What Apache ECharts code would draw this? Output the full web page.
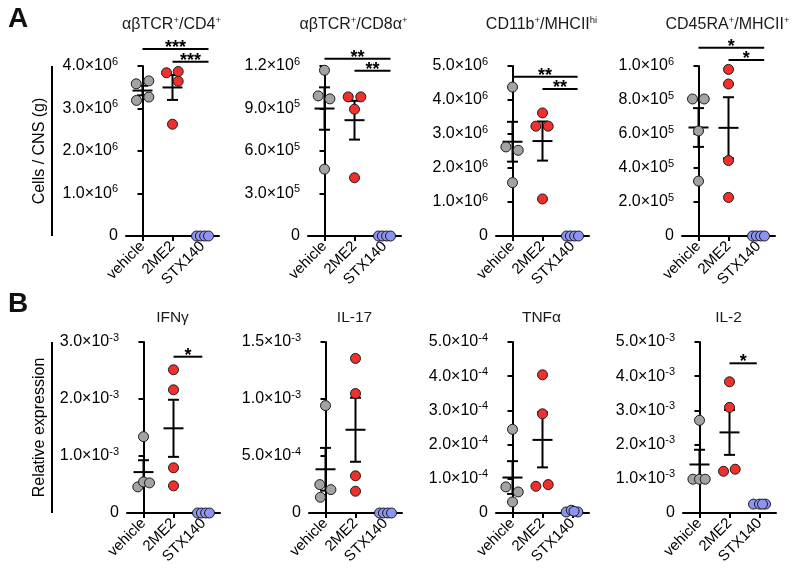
<!DOCTYPE html>
<html>
<head>
<meta charset="utf-8">
<script src="https://cdn.jsdelivr.net/npm/echarts@6/dist/echarts.min.js"></script>
<style>
html,body{margin:0;padding:0;background:#fff;}
#chart{width:800px;height:574px;}
</style>
</head>
<body>
<div id="chart"></div>
<script>
// ---------------- DATA ----------------
const categories = ['vehicle', '2ME2', 'STX140'];

// Row A titles and y label
const titlesA = [
  '{t|αβTCR}{s|+}{t|/CD4}{s|+}',
  '{t|αβTCR}{s|+}{t|/CD8α}{s|+}',
  '{t|CD11b}{s|+}{t|/MHCII}{s|hi}',
  '{t|CD45RA}{s|+}{t|/MHCII}{s|+}'
];
const yNameA = 'Cells / CNS (g)';
const yMaxA = [4e6, 1.2e6, 5e6, 1e6];
const yStepA = [1e6, 3e5, 1e6, 2e5];

// Row B titles and y label
const titlesB = ['{t|IFNγ}', '{t|IL-17}', '{t|TNFα}', '{t|IL-2}'];
const yNameB = 'Relative expression';
const yMaxB = [3e-3, 1.5e-3, 5e-4, 5e-3];
const yStepB = [1e-3, 5e-4, 1e-4, 1e-3];

// Values per group: [vehicle, 2ME2, STX140]
const cd4Values = [[3.65e6, 3.58e6, 3.27e6, 3.19e6], [3.84e6, 3.87e6, 3.64e6, 2.63e6], [0, 0, 0, 0]];
const cd4Jitter = [[0.21, -0.21, 0.21, -0.2], [-0.2, 0.19, 0.19, 0], [-0.2, -0.07, 0.07, 0.2]];
const cd4Sig = [[0, 2.2, 4.40e6, '***'], [1, 2.2, 4.10e6, '***']];

const cd8Values = [[1.17e6, 0.989e6, 0.968e6, 0.472e6], [0.982e6, 0.982e6, 0.895e6, 0.411e6], [0, 0, 0, 0]];
const cd8Jitter = [[0, -0.21, 0.18, 0], [-0.21, 0.21, 0, 0], [-0.2, -0.07, 0.07, 0.2]];
const cd8Sig = [[0, 2.2, 1.252e6, '**'], [1, 2.2, 1.167e6, '**']];

const cd11bValues = [[4.38e6, 2.62e6, 2.52e6, 1.57e6], [3.62e6, 3.23e6, 3.23e6, 1.09e6], [0, 0, 0, 0]];
const cd11bJitter = [[0, -0.22, 0.19, 0], [0, -0.22, 0.19, 0], [-0.2, -0.07, 0.07, 0.2]];
const cd11bSig = [[0, 2.17, 4.685e6, '**'], [1, 2.17, 4.32e6, '**']];

const cd45Values = [[0.806e6, 0.806e6, 0.618e6, 0.323e6], [0.98e6, 0.894e6, 0.444e6, 0.227e6], [0, 0, 0, 0]];
const cd45Jitter = [[-0.2, 0.19, 0, 0], [0, 0, 0, 0], [-0.2, -0.07, 0.07, 0.2]];
const cd45Sig = [[0, 2.19, 1.108e6, '*'], [1, 2.19, 1.035e6, '*']];

const ifngValues = [[1.339e-3, 0.458e-3, 0.546e-3, 0.528e-3], [2.513e-3, 2.161e-3, 0.793e-3, 0.476e-3], [0, 0, 0, 0]];
const ifngJitter = [[0, -0.19, 0, 0.2], [0, 0, 0, 0], [-0.2, -0.07, 0.07, 0.2]];
const ifngSig = [[1, 1.96, 2.742e-3, '*']];

const il17Values = [[0.942e-3, 0.249e-3, 0.205e-3, 0.138e-3], [1.356e-3, 1.048e-3, 0.326e-3, 0.191e-3], [0, 0, 0, 0]];
const il17Jitter = [[0, -0.19, 0.18, -0.17], [0, 0, 0, 0], [-0.2, -0.07, 0.07, 0.2]];
const il17Sig = [];

const tnfValues = [[2.446e-4, 0.763e-4, 0.616e-4, 0.323e-4], [4.04e-4, 2.90e-4, 0.78e-4, 0.83e-4], [0.03e-4, 0.08e-4, 0.03e-4, 0.05e-4]];
const tnfJitter = [[0, -0.22, 0.19, 0], [0, 0, -0.22, 0.19], [-0.21, -0.04, 0.18, 0.05]];
const tnfSig = [];

const il2Values = [[2.71e-3, 0.988e-3, 0.988e-3, 0.988e-3], [3.836e-3, 3.09e-3, 1.22e-3, 1.28e-3], [0.26e-3, 0.26e-3, 0.26e-3, 0.26e-3]];
const il2Jitter = [[0, -0.22, 0, 0.19], [0, 0, -0.2, 0.19], [-0.2, 0, 0.2, 0.1]];
const il2Sig = [[1, 1.91, 4.377e-3, '*']];

// ---------------- STYLE / LAYOUT ----------------
const FONT = 'Liberation Sans, Arial, Helvetica, sans-serif';
const groupColors = ['#a3a3a3', '#f0302c', '#8d93f0'];
const gridLeftA = [126, 308, 496, 682];
const gridLeftB = [127, 309, 496, 683];
const gridW = 93;
const rowA = {top: 66, height: 170};
const rowB = {top: 342, height: 171};

const panels = [
  {title: titlesA[0], values: cd4Values, jitter: cd4Jitter, sig: cd4Sig, max: yMaxA[0], step: yStepA[0], left: gridLeftA[0], row: rowA},
  {title: titlesA[1], values: cd8Values, jitter: cd8Jitter, sig: cd8Sig, max: yMaxA[1], step: yStepA[1], left: gridLeftA[1], row: rowA},
  {title: titlesA[2], values: cd11bValues, jitter: cd11bJitter, sig: cd11bSig, max: yMaxA[2], step: yStepA[2], left: gridLeftA[2], row: rowA},
  {title: titlesA[3], values: cd45Values, jitter: cd45Jitter, sig: cd45Sig, max: yMaxA[3], step: yStepA[3], left: gridLeftA[3], row: rowA},
  {title: titlesB[0], values: ifngValues, jitter: ifngJitter, sig: ifngSig, max: yMaxB[0], step: yStepB[0], left: gridLeftB[0], row: rowB},
  {title: titlesB[1], values: il17Values, jitter: il17Jitter, sig: il17Sig, max: yMaxB[1], step: yStepB[1], left: gridLeftB[1], row: rowB},
  {title: titlesB[2], values: tnfValues, jitter: tnfJitter, sig: tnfSig, max: yMaxB[2], step: yStepB[2], left: gridLeftB[2], row: rowB},
  {title: titlesB[3], values: il2Values, jitter: il2Jitter, sig: il2Sig, max: yMaxB[3], step: yStepB[3], left: gridLeftB[3], row: rowB}
];

function sciLabel(v) {
  if (Math.abs(v) < 1e-15) return '{m|0}';
  const e = Math.floor(Math.log10(v) + 1e-9);
  const m = (v / Math.pow(10, e)).toFixed(1);
  return '{m|' + m + '×10}{e|' + e + '}';
}
function mean(a) { return a.reduce((s, x) => s + x, 0) / a.length; }
function sem(a) {
  const m = mean(a);
  const v = a.reduce((s, x) => s + (x - m) * (x - m), 0) / (a.length - 1);
  return Math.sqrt(v) / Math.sqrt(a.length);
}

const grid = [], xAxis = [], yAxis = [], series = [], graphic = [];

panels.forEach((p, i) => {
  const isA = i < 4;
  grid.push({left: p.left, top: p.row.top, width: gridW, height: p.row.height, containLabel: false});
  xAxis.push({
    type: 'value', gridIndex: i, min: -0.55, max: 2.55,
    splitLine: {show: false},
    axisLine: {show: true, onZero: false, lineStyle: {color: '#000', width: 2}},
    axisTick: {show: true, customValues: [0, 1, 2], length: 5, lineStyle: {color: '#000', width: 2}},
    axisLabel: {
      show: true, customValues: [0, 1, 2], rotate: 45, margin: 8,
      fontSize: 15, fontFamily: FONT, color: '#000',
      formatter: v => categories[Math.round(v)]
    }
  });
  yAxis.push({
    type: 'value', gridIndex: i, min: 0, max: p.max, interval: p.step,
    splitLine: {show: false},
    axisLine: {show: true, lineStyle: {color: '#000', width: 2}},
    axisTick: {show: true, length: 5, lineStyle: {color: '#000', width: 2}},
    axisLabel: {
      margin: 8, formatter: sciLabel,
      rich: {
        m: {fontSize: 16, lineHeight: 20, fontFamily: FONT, color: '#000'},
        e: {fontSize: 11, lineHeight: 11, fontFamily: FONT, color: '#000', verticalAlign: 'top'}
      }
    }
  });
  // mean +/- SEM (drawn below points)
  series.push({
    type: 'custom', xAxisIndex: i, yAxisIndex: i, zlevel: 0, z: 1, clip: false, silent: true,
    data: p.values.map((vals, g) => [g, mean(vals), sem(vals)]),
    renderItem: function (params, api) {
      const x = api.value(0), m = api.value(1), s = api.value(2);
      const c = api.coord([x, m]);
      const t = api.coord([x, m + s]);
      const b = api.coord([x, m - s]);
      const st = {stroke: '#000', lineWidth: 2};
      return {type: 'group', children: [
        {type: 'line', shape: {x1: c[0] - 10, y1: c[1], x2: c[0] + 10, y2: c[1]}, style: st},
        {type: 'line', shape: {x1: c[0], y1: t[1], x2: c[0], y2: b[1]}, style: st},
        {type: 'line', shape: {x1: c[0] - 5.5, y1: t[1], x2: c[0] + 5.5, y2: t[1]}, style: st},
        {type: 'line', shape: {x1: c[0] - 5.5, y1: b[1], x2: c[0] + 5.5, y2: b[1]}, style: st}
      ]};
    }
  });
  // points (separate layer so they sit above the error bars and axes)
  p.values.forEach((vals, g) => {
    series.push({
      type: 'scatter', xAxisIndex: i, yAxisIndex: i, zlevel: 1, z: 3, clip: false,
      symbol: 'circle', symbolSize: 10,
      itemStyle: {color: groupColors[g], borderColor: '#1a1a1a', borderWidth: 1, opacity: 1},
      data: vals.map((v, k) => [g + p.jitter[g][k], v])
    });
  });
  // significance bars
  if (p.sig.length) {
    const sig = p.sig;
    series.push({
      type: 'custom', xAxisIndex: i, yAxisIndex: i, zlevel: 1, z: 4, clip: false, silent: true,
      data: sig.map(s => [s[0], s[2], s[1]]),
      renderItem: function (params, api) {
        const s = sig[params.dataIndex];
        const a = api.coord([s[0], s[2]]);
        const b = api.coord([s[1], s[2]]);
        return {type: 'group', children: [
          {type: 'line', shape: {x1: a[0], y1: a[1], x2: b[0], y2: b[1]}, style: {stroke: '#000', lineWidth: 2}},
          {type: 'text', x: (a[0] + b[0]) / 2, y: a[1] - 1,
           style: {text: s[3], font: 'bold 18px ' + FONT, fill: '#000', textAlign: 'center', textVerticalAlign: 'middle'}}
        ]};
      }
    });
  }
  // panel title
  graphic.push({
    type: 'text', x: p.left + gridW / 2 - 1, y: p.row.top - (isA ? 41 : 24),
    style: {
      text: p.title, textAlign: 'center', textVerticalAlign: 'middle',
      rich: {
        t: {fontSize: isA ? 16 : 15.5, fontFamily: FONT, fill: '#1a1a1a', lineHeight: 20},
        s: {fontSize: 9.5, fontFamily: FONT, fill: '#1a1a1a', lineHeight: 11, verticalAlign: 'top'}
      }
    }
  });
});

// panel letters and row y-axis names
graphic.push(
  {type: 'text', x: 18, y: 19, style: {text: 'A', font: 'bold 28px ' + FONT, fill: '#111', textAlign: 'center', textVerticalAlign: 'middle'}},
  {type: 'text', x: 18, y: 304, style: {text: 'B', font: 'bold 28px ' + FONT, fill: '#111', textAlign: 'center', textVerticalAlign: 'middle'}},
  {type: 'text', x: 40, y: rowA.top + rowA.height / 2, rotation: Math.PI / 2,
   style: {text: yNameA, font: '16px ' + FONT, fill: '#000', textAlign: 'center', textVerticalAlign: 'middle'}},
  {type: 'line', shape: {x1: 52, y1: rowA.top, x2: 52, y2: rowA.top + rowA.height}, style: {stroke: '#000', lineWidth: 2}},
  {type: 'text', x: 40, y: rowB.top + rowB.height / 2, rotation: Math.PI / 2,
   style: {text: yNameB, font: '16px ' + FONT, fill: '#000', textAlign: 'center', textVerticalAlign: 'middle'}},
  {type: 'line', shape: {x1: 52, y1: rowB.top, x2: 52, y2: rowB.top + rowB.height}, style: {stroke: '#000', lineWidth: 2}}
);

const chart = echarts.init(document.getElementById('chart'), null, {renderer: 'canvas'});
chart.setOption({
  animation: false,
  backgroundColor: '#fff',
  textStyle: {fontFamily: FONT},
  grid: grid, xAxis: xAxis, yAxis: yAxis, series: series, graphic: graphic
});
</script>
</body>
</html>
